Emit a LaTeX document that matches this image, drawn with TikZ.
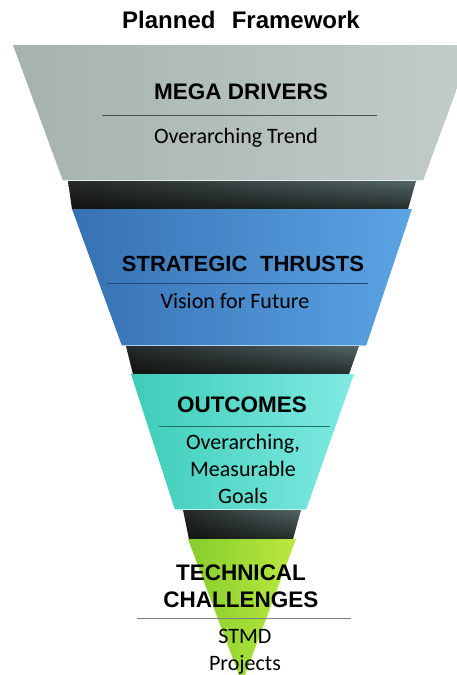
\documentclass[tikz,border=0pt]{standalone}
\usepackage{fontspec}
\setmainfont{Liberation Sans}
\newfontfamily\bodyfont{Carlito}
\usetikzlibrary{fadings}

\definecolor{megaL}{HTML}{A5B2B0}
\definecolor{megaR}{HTML}{C2CDCB}
\definecolor{thrustL}{HTML}{3671B3}
\definecolor{thrustR}{HTML}{5CA4E4}
\definecolor{outL}{HTML}{3DCCB7}
\definecolor{outR}{HTML}{80EAE2}
\definecolor{techL}{HTML}{86CD2C}
\definecolor{techR}{HTML}{BAE940}
\definecolor{bandL}{HTML}{262929}
\definecolor{bandR}{HTML}{526664}

% lines stacked, baseline on the first one
\newcommand{\linesof}[1]{\begin{tabular}[t]{@{}c@{}}#1\end{tabular}}

\begin{document}
\begin{tikzpicture}[x=1pt, y=-1pt,
  head/.style={anchor=base, font=\fontsize{22.5}{27}\selectfont\bfseries, inner sep=0pt},
  sub/.style={anchor=base, font=\bodyfont\fontsize{22}{27}\selectfont, inner sep=0pt},
  band/.style={left color=bandL, right color=bandR},
  shadow/.style={fill=black, path fading=north, opacity=0.55},
  edge/.style={line width=1.2pt}]

  \useasboundingbox (0,0) rectangle (457,675);
  \begin{scope}
    \clip (0,0) rectangle (457,675);
    % mega drivers
    \shade[left color=megaL, right color=megaR] (13,45) -- (473,45) -- (423,181) -- (63,181) -- cycle;
    \draw[edge, megaR!40!white] (63,180.5) -- (423,180.5);
    \shade[band] (68,181) -- (416,181) -- (408,209) -- (72,209) -- cycle;
    \fill[shadow] (68,181) -- (416,181) -- (408,209) -- (72,209) -- cycle;
    % strategic thrusts
    \shade[left color=thrustL, right color=thrustR] (72,209) -- (412,209) -- (366,346) -- (122,346) -- cycle;
    \draw[edge, thrustR!50!white] (122,345.5) -- (366,345.5);
    \shade[band] (126,346) -- (359,346) -- (349,374) -- (133,374) -- cycle;
    \fill[shadow] (126,346) -- (359,346) -- (349,374) -- (133,374) -- cycle;
    % outcomes
    \shade[left color=outL, right color=outR] (131,374) -- (354,374) -- (306,510) -- (175,510) -- cycle;
    \draw[edge, outR!50!white] (175,509.5) -- (306,509.5);
    \shade[band] (183,510) -- (301,510) -- (293,539) -- (189,539) -- cycle;
    \fill[shadow] (183,510) -- (301,510) -- (293,539) -- (189,539) -- cycle;
    % technical challenges
    \shade[left color=techL, right color=techR] (188,539) -- (296,539) -- (242,683) -- cycle;
  \end{scope}

  % separators
  \draw[line width=0.8pt, black!55!megaL] (102,115) -- (377,115);
  \draw[line width=0.8pt, black!35!thrustL] (107,283) -- (368,283);
  \draw[line width=0.8pt, black!45!outL] (159,426) -- (330,426);
  \draw[line width=0.8pt, black!50] (137,618) -- (351,618);

  % texts
  \node[head, font=\fontsize{24}{28}\selectfont\bfseries] (title) at (241,28) {Planned\hspace{0.4em} Framework};
  \node[head] (mega) at (241,99) {MEGA DRIVERS};
  \node[sub] (megasub) at (236,143) {Overarching Trend};
  \node[head, font=\fontsize{22}{27}\selectfont\bfseries] (thrust) at (243,271) {STRATEGIC\hspace{0.3em} THRUSTS};
  \node[sub] (thrustsub) at (235,308) {Vision for Future};
  \node[head] (outcome) at (242,412) {OUTCOMES};
  \node[sub] (outcomesub) at (243,449) {\linesof{Overarching,\\Measurable\\Goals}};
  \node[head] (tech) at (241,580) {\linesof{TECHNICAL\\CHALLENGES}};
  \node[sub] (techsub) at (245,643) {\linesof{STMD\\Projects}};
\end{tikzpicture}
\end{document}
